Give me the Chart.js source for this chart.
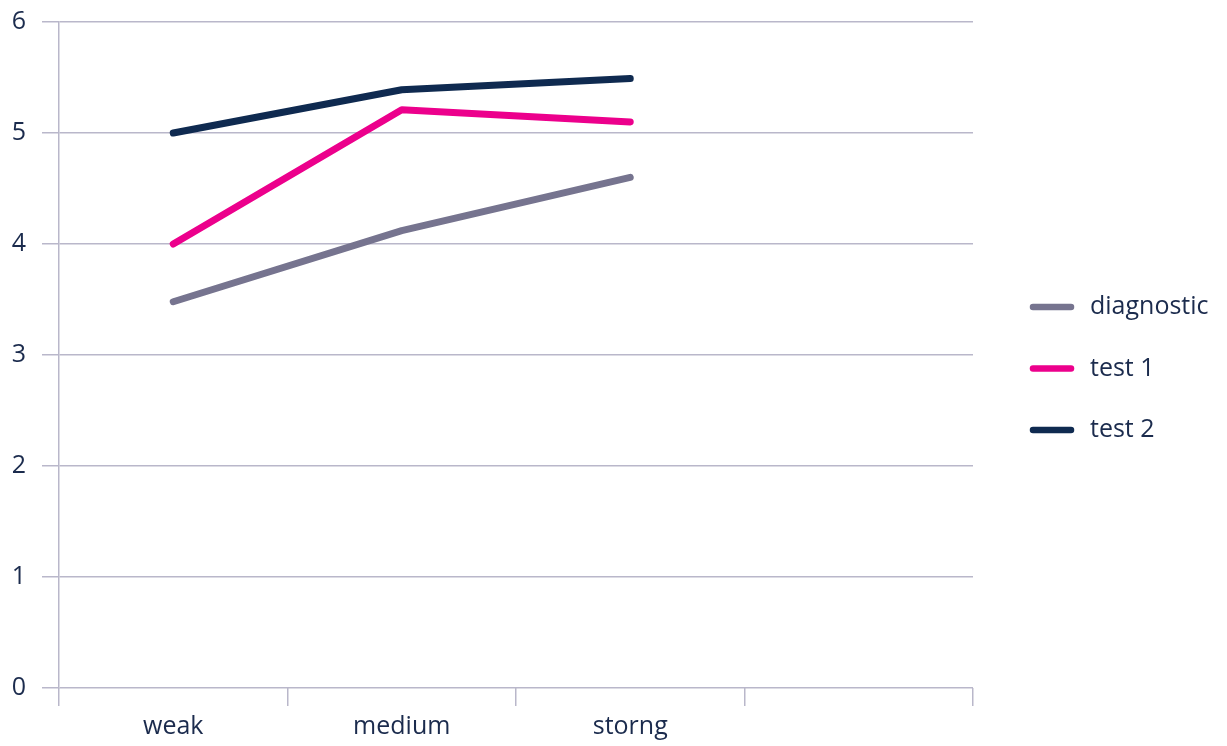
<!DOCTYPE html>
<html lang="en">
<head>
    <meta charset="UTF-8">
    <title>Line chart</title>
    <style>
        html, body { margin: 0; padding: 0; background: #fff; }
        #wrap { width: 1227px; height: 746px; }
    </style>
</head>
<body>
    <div id="wrap"><canvas id="chart" width="1227" height="746"></canvas></div>

    <script src="https://cdn.jsdelivr.net/npm/chart.js"></script>
    <script>
        // data
        const categories = ['weak', 'medium', 'storng', ''];
        const diagnostic = [3.48, 4.12, 4.6, null];
        const test1 = [4.0, 5.21, 5.1, null];
        const test2 = [5.0, 5.39, 5.49, null];
        const yTicks = [0, 1, 2, 3, 4, 5, 6];

        const gridColor = '#b9b7ca';
        const textColor = '#1b2b4d';
        const fontFamily = '"Open Sans", Lato, sans-serif';

        Chart.defaults.font.family = fontFamily;
        Chart.defaults.font.size = 25;
        Chart.defaults.color = textColor;

        const series = [
            { label: 'diagnostic', data: diagnostic, color: '#76748f' },
            { label: 'test 1', data: test1, color: '#ec008c' },
            { label: 'test 2', data: test2, color: '#0f2a50' }
        ];

        // legend drawn by hand so the plot area and the legend can be placed separately
        const sideLegend = {
            id: 'sideLegend',
            afterDraw(chart) {
                const ctx = chart.ctx;
                const x0 = chart.chartArea.right + 57;
                const top = 307;
                const step = 61.5;
                ctx.save();
                ctx.font = '25px ' + fontFamily;
                ctx.textBaseline = 'middle';
                ctx.lineCap = 'round';
                ctx.lineWidth = 6.5;
                chart.data.datasets.forEach((ds, i) => {
                    const y = top + i * step;
                    ctx.strokeStyle = ds.borderColor;
                    ctx.beginPath();
                    ctx.moveTo(x0 + 3, y);
                    ctx.lineTo(x0 + 41, y);
                    ctx.stroke();
                    ctx.fillStyle = textColor;
                    ctx.fillText(ds.label, x0 + 60, y);
                });
                ctx.restore();
            }
        };

        new Chart(document.getElementById('chart'), {
            type: 'line',
            data: {
                labels: categories,
                datasets: series.map(s => ({
                    label: s.label,
                    data: s.data,
                    borderColor: s.color,
                    backgroundColor: s.color,
                    borderWidth: 7,
                    borderCapStyle: 'round',
                    borderJoinStyle: 'round',
                    tension: 0,
                    pointRadius: 0,
                    pointHoverRadius: 0
                }))
            },
            options: {
                responsive: false,
                animation: false,
                layout: { padding: { top: 22, right: 254, left: 0, bottom: 0 } },
                plugins: {
                    tooltip: { enabled: false },
                    legend: { display: false }
                },
                scales: {
                    x: {
                        offset: true,
                        grid: {
                            offset: true,
                            drawOnChartArea: false,
                            color: gridColor,
                            tickLength: 18,
                            lineWidth: 1.5
                        },
                        border: { display: false },
                        ticks: { padding: 6, color: textColor, maxRotation: 0 },
                        afterFit: axis => {
                            axis.height = 58;
                            axis.paddingLeft = 0;
                            axis.paddingRight = 0;
                        }
                    },
                    y: {
                        min: 0,
                        max: 6,
                        afterBuildTicks: axis => { axis.ticks = yTicks.map(v => ({ value: v })); },
                        grid: { color: gridColor, tickLength: 17, lineWidth: 1.5 },
                        border: { color: gridColor, width: 1.5 },
                        ticks: { padding: 16, color: textColor },
                        afterFit: axis => {
                            axis.width = 59;
                            axis.paddingTop = 0;
                            axis.paddingBottom = 0;
                        }
                    }
                }
            },
            plugins: [sideLegend]
        });
    </script>
</body>
</html>
